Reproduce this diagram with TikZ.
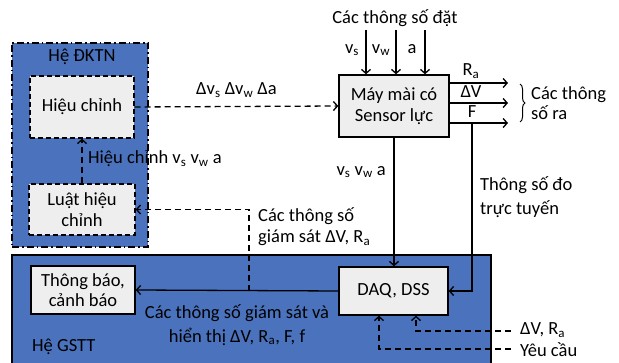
\documentclass[tikz,border=0pt]{standalone}
\usepackage{fontspec}
\setmainfont{Carlito}
\usetikzlibrary{arrows.meta,decorations.pathreplacing}
\definecolor{sysblue}{RGB}{74,114,189}
\definecolor{boxgray}{RGB}{238,238,238}
\tikzset{
  lbl/.style={inner sep=0pt, align=left, font=\fontsize{18.5}{24}\selectfont},
  sysbox/.style={draw=black, fill=sysblue, line width=1.3pt, inner sep=0pt},
  unit/.style={draw=black, line width=1.4pt, fill=boxgray, align=center, inner sep=0pt},
  dunit/.style={unit, dash pattern=on 5pt off 3pt},
  flow/.style={line width=1.3pt, -{Straight Barb[length=4pt,width=9pt]}},
  dflow/.style={flow, dash pattern=on 6pt off 4pt},
}
\begin{document}
\begin{tikzpicture}[x=1pt,y=-1pt,font=\fontsize{18.5}{20.5}\selectfont]
   \useasboundingbox (0,0) rectangle (619,363);
   % the two systems
   \node[sysbox, dash pattern=on 7pt off 3pt on 1.5pt off 3pt, minimum width=136pt, minimum height=204pt] (dktn) at (80,145) {};
   \node[sysbox, minimum width=479pt, minimum height=110pt] (gstt) at (251.5,310) {};
   \node[lbl] (dktnname) at (82,57) {Hệ ĐKTN};
   \node[lbl, anchor=west] (gsttname) at (32,347) {Hệ GSTT};
   % blocks
   \node[dunit, minimum width=104pt, minimum height=62pt] (hc) at (82,107) {Hiệu chỉnh};
   \node[dunit, minimum width=106pt, minimum height=51pt] (lh) at (82,209.5) {Luật hiệu\\chỉnh};
   \node[unit, minimum width=110pt, minimum height=62pt] (mm) at (394,106) {Máy mài có\\Sensor lực};
   \node[unit, minimum width=104pt, minimum height=48pt] (tb) at (83,290) {Thông báo,\\cảnh báo};
   \node[unit, minimum width=109pt, minimum height=48pt] (daq) at (393.5,291) {DAQ, DSS};
   % set values
   \node[lbl] (setname) at (395,18) {Các thông số đặt};
   \coordinate (in1) at (366,30);
   \coordinate (in2) at (396,30);
   \coordinate (in3) at (425,30);
   \draw[flow] (in1) -- (in1 |- mm.north);
   \draw[flow] (in2) -- (in2 |- mm.north);
   \draw[flow] (in3) -- (in3 |- mm.north);
   \node[lbl] (vs) at (352,50) {v\textsubscript{s}};
   \node[lbl] (vw) at (381,50) {v\textsubscript{w}};
   \node[lbl] (aa) at (412,49) {a};
   % outputs
   \coordinate (o1) at (508,83);
   \coordinate (o2) at (508,103);
   \coordinate (o3) at (508,123);
   \draw[flow] (o1 -| mm.east) -- (o1);
   \draw[flow] (o2 -| mm.east) -- (o2);
   \draw[flow] (o3 -| mm.east) -- (o3);
   \node[lbl] (ra) at (471,71) {R\textsubscript{a}};
   \node[lbl] (dv) at (471,92) {ΔV};
   \node[lbl] (ff) at (472,112) {F};
   \draw[decorate, decoration={brace, amplitude=5pt}, line width=1pt] (520,84) -- (520,122);
   \node[lbl, anchor=west, font=\fontsize{18.5}{20}\selectfont] (outname) at (531,103) {Các thông\\số ra};
   % control loop
   \draw[dflow] (hc.east) -- (mm.west) node[midway, above=5pt] {Δv\textsubscript{s} Δv\textsubscript{w} Δa};
   \draw[dflow] (lh.north) -- (hc.south);
   \node[lbl, anchor=west] (hclbl) at (88,159) {Hiệu chỉnh v\textsubscript{s} v\textsubscript{w} a};
   % measured values
   \draw[flow] (mm.south) -- (mm.south |- daq.north);
   \node[lbl, anchor=east] (vlbl) at (386,172) {v\textsubscript{s} v\textsubscript{w} a};
   \coordinate (ftap) at (472,123);
   \draw[flow] (ftap) |- (daq.east);
   \node[lbl, anchor=west] (onl) at (480,197) {Thông số đo\\trực tuyến};
   % monitoring
   \draw[flow] (daq.west) -- (tb.east);
   \node[lbl, align=center] (mlbl) at (237,325) {Các thông số giám sát và\\hiển thị ΔV, R\textsubscript{a}, F, f};
   \coordinate (tap) at (249,291);
   \draw[dflow] (tap) |- (lh.east);
   \node[lbl, anchor=west, font=\fontsize{18.5}{21}\selectfont] (glbl) at (258,227) {Các thông số\\giám sát ΔV, R\textsubscript{a}};
   % requests
   \coordinate (r1) at (511,331);
   \coordinate (r2) at (511,349);
   \draw[dflow] (r1) -| ([xshift=22.5pt]daq.south);
   \draw[dflow] (r2) -| ([xshift=-14.5pt]daq.south);
   \node[lbl, anchor=west] (r1lbl) at (520,330) {ΔV, R\textsubscript{a}};
   \node[lbl, anchor=west] (r2lbl) at (520,350) {Yêu cầu};
\end{tikzpicture}
\end{document}
